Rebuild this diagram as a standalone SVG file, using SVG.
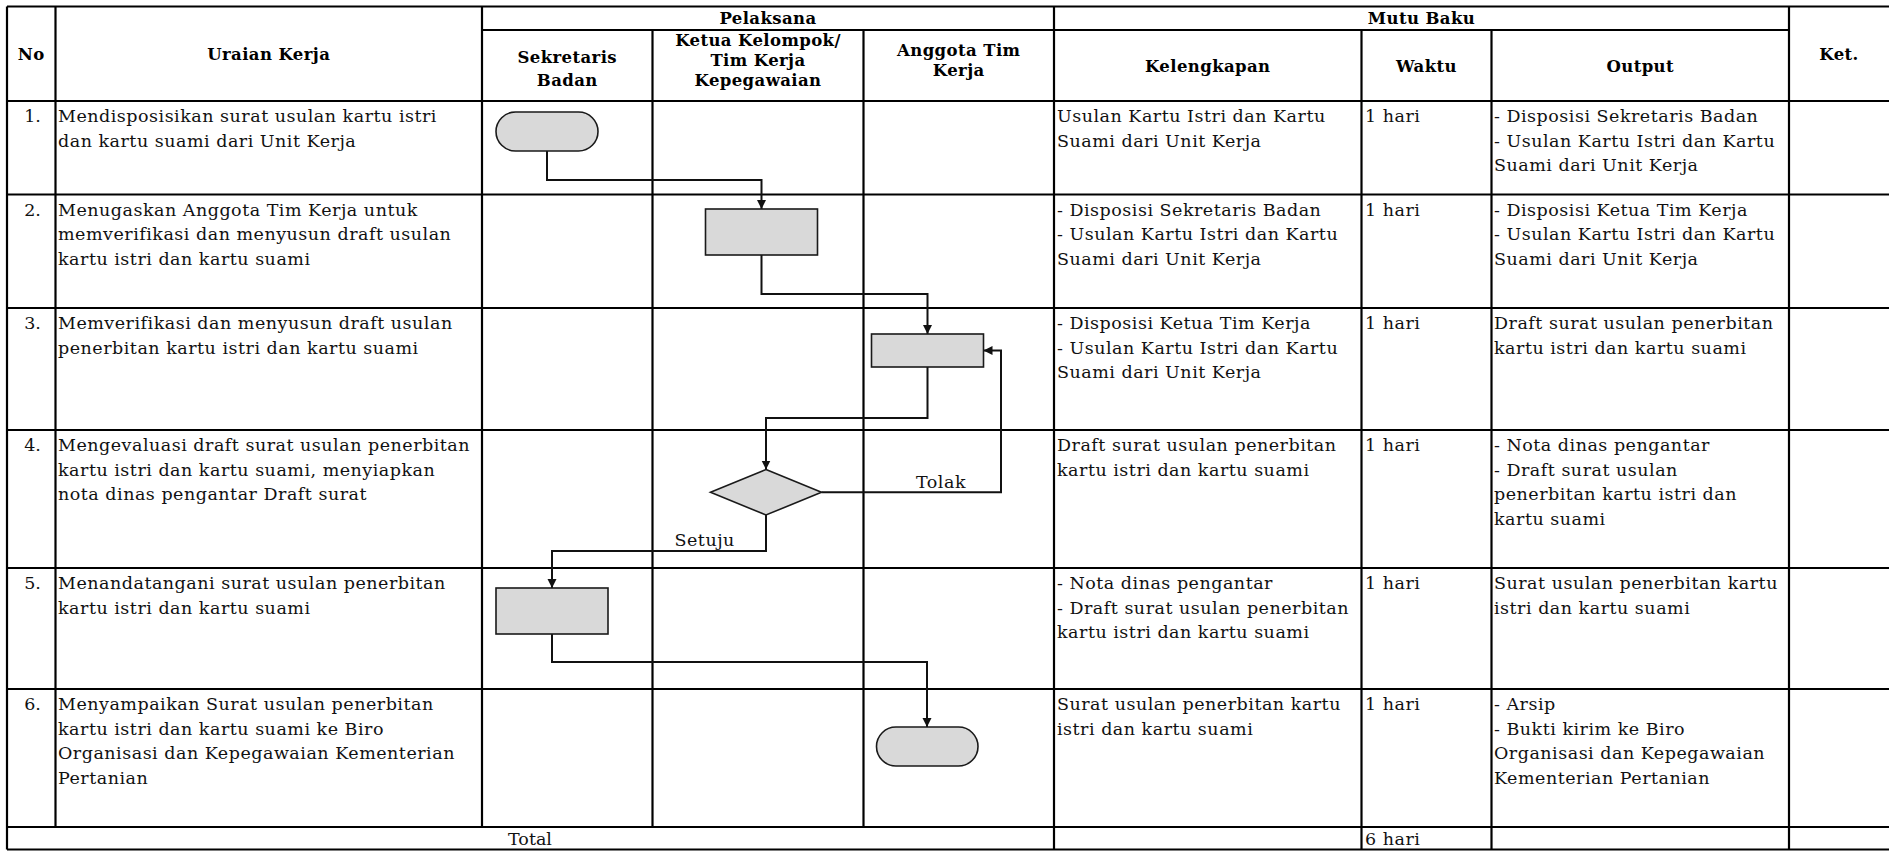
<svg xmlns="http://www.w3.org/2000/svg" width="1889" height="851" viewBox="0 0 1889 851">
<style>
.bg{fill:#fff}
.grid{stroke:#000;stroke-width:2.2;fill:none}
.t{font-family:"DejaVu Serif",serif;font-size:17.5px;letter-spacing:0.5px;fill:#111}
.n{font-family:"DejaVu Serif",serif;font-size:17.5px;fill:#111;text-anchor:middle}
.h{font-family:"DejaVu Serif",serif;font-size:16.5px;letter-spacing:0.4px;font-weight:bold;fill:#000;text-anchor:middle}
.shape{fill:#d9d9d9;stroke:#1a1a1a;stroke-width:1.6}
.conn{fill:none;stroke:#111;stroke-width:2}
.lbl{font-family:"DejaVu Serif",serif;font-size:17.5px;letter-spacing:0.5px;fill:#111}
</style>
<defs>
<marker id="arr" markerUnits="userSpaceOnUse" markerWidth="10" markerHeight="10" refX="9" refY="4.5" orient="auto">
<path d="M0,0 L9,4.5 L0,9 z" fill="#111"/>
</marker>
</defs>
<rect class="bg" x="0" y="0" width="1889" height="851"/>

<g id="table-grid" class="grid">
<line x1="7" y1="6.5" x2="1889" y2="6.5"/>
<line x1="482" y1="30" x2="1789" y2="30"/>
<line x1="7" y1="101" x2="1889" y2="101"/>
<line x1="7" y1="194.5" x2="1889" y2="194.5"/>
<line x1="7" y1="308" x2="1889" y2="308"/>
<line x1="7" y1="430" x2="1889" y2="430"/>
<line x1="7" y1="568" x2="1889" y2="568"/>
<line x1="7" y1="689" x2="1889" y2="689"/>
<line x1="7" y1="827" x2="1889" y2="827"/>
<line x1="7" y1="849.5" x2="1889" y2="849.5"/>
<line x1="7" y1="6.5" x2="7" y2="849.5"/>
<line x1="55.5" y1="6.5" x2="55.5" y2="827"/>
<line x1="482" y1="6.5" x2="482" y2="827"/>
<line x1="652.5" y1="30" x2="652.5" y2="827"/>
<line x1="863.5" y1="30" x2="863.5" y2="827"/>
<line x1="1054" y1="6.5" x2="1054" y2="849.5"/>
<line x1="1361.5" y1="30" x2="1361.5" y2="849.5"/>
<line x1="1491.5" y1="30" x2="1491.5" y2="849.5"/>
<line x1="1789" y1="6.5" x2="1789" y2="849.5"/>
</g>

<g id="header">
<text class="h" x="31.25" y="59.5">No</text>
<text class="h" x="268.75" y="59.5">Uraian Kerja</text>
<text class="h" x="768" y="23.5">Pelaksana</text>
<text class="h" x="1421.5" y="23.5">Mutu Baku</text>
<text class="h" x="1839" y="59.5">Ket.</text>
<text class="h" x="567.25" y="62.5">Sekretaris</text>
<text class="h" x="567.25" y="85.5">Badan</text>
<text class="h" x="758" y="46">Ketua Kelompok/</text>
<text class="h" x="758" y="66">Tim Kerja</text>
<text class="h" x="758" y="86">Kepegawaian</text>
<text class="h" x="958.75" y="56">Anggota Tim</text>
<text class="h" x="958.75" y="76">Kerja</text>
<text class="h" x="1207.75" y="72">Kelengkapan</text>
<text class="h" x="1426.5" y="72">Waktu</text>
<text class="h" x="1640.25" y="72">Output</text>
</g>

<g id="row1">
<text class="n" x="32.5" y="122">1.</text>
<text class="t" y="122"><tspan x="58">Mendisposisikan surat usulan kartu istri</tspan><tspan x="58" y="146.5">dan kartu suami dari Unit Kerja</tspan></text>
<text class="t" y="122"><tspan x="1057">Usulan Kartu Istri dan Kartu</tspan><tspan x="1057" y="146.5">Suami dari Unit Kerja</tspan></text>
<text class="t" x="1365" y="122">1 hari</text>
<text class="t" y="122"><tspan x="1494">- Disposisi Sekretaris Badan</tspan><tspan x="1494" y="146.5">- Usulan Kartu Istri dan Kartu</tspan><tspan x="1494" y="171">Suami dari Unit Kerja</tspan></text>
</g>

<g id="row2">
<text class="n" x="32.5" y="215.5">2.</text>
<text class="t" y="215.5"><tspan x="58">Menugaskan Anggota Tim Kerja untuk</tspan><tspan x="58" y="240">memverifikasi dan menyusun draft usulan</tspan><tspan x="58" y="264.5">kartu istri dan kartu suami</tspan></text>
<text class="t" y="215.5"><tspan x="1057">- Disposisi Sekretaris Badan</tspan><tspan x="1057" y="240">- Usulan Kartu Istri dan Kartu</tspan><tspan x="1057" y="264.5">Suami dari Unit Kerja</tspan></text>
<text class="t" x="1365" y="215.5">1 hari</text>
<text class="t" y="215.5"><tspan x="1494">- Disposisi Ketua Tim Kerja</tspan><tspan x="1494" y="240">- Usulan Kartu Istri dan Kartu</tspan><tspan x="1494" y="264.5">Suami dari Unit Kerja</tspan></text>
</g>

<g id="row3">
<text class="n" x="32.5" y="329">3.</text>
<text class="t" y="329"><tspan x="58">Memverifikasi dan menyusun draft usulan</tspan><tspan x="58" y="353.5">penerbitan kartu istri dan kartu suami</tspan></text>
<text class="t" y="329"><tspan x="1057">- Disposisi Ketua Tim Kerja</tspan><tspan x="1057" y="353.5">- Usulan Kartu Istri dan Kartu</tspan><tspan x="1057" y="378">Suami dari Unit Kerja</tspan></text>
<text class="t" x="1365" y="329">1 hari</text>
<text class="t" y="329"><tspan x="1494">Draft surat usulan penerbitan</tspan><tspan x="1494" y="353.5">kartu istri dan kartu suami</tspan></text>
</g>

<g id="row4">
<text class="n" x="32.5" y="451">4.</text>
<text class="t" y="451"><tspan x="58">Mengevaluasi draft surat usulan penerbitan</tspan><tspan x="58" y="475.5">kartu istri dan kartu suami, menyiapkan</tspan><tspan x="58" y="500">nota dinas pengantar Draft surat</tspan></text>
<text class="t" y="451"><tspan x="1057">Draft surat usulan penerbitan</tspan><tspan x="1057" y="475.5">kartu istri dan kartu suami</tspan></text>
<text class="t" x="1365" y="451">1 hari</text>
<text class="t" y="451"><tspan x="1494">- Nota dinas pengantar</tspan><tspan x="1494" y="475.5">- Draft surat usulan</tspan><tspan x="1494" y="500">penerbitan kartu istri dan</tspan><tspan x="1494" y="524.5">kartu suami</tspan></text>
</g>

<g id="row5">
<text class="n" x="32.5" y="589">5.</text>
<text class="t" y="589"><tspan x="58">Menandatangani surat usulan penerbitan</tspan><tspan x="58" y="613.5">kartu istri dan kartu suami</tspan></text>
<text class="t" y="589"><tspan x="1057">- Nota dinas pengantar</tspan><tspan x="1057" y="613.5">- Draft surat usulan penerbitan</tspan><tspan x="1057" y="638">kartu istri dan kartu suami</tspan></text>
<text class="t" x="1365" y="589">1 hari</text>
<text class="t" y="589"><tspan x="1494">Surat usulan penerbitan kartu</tspan><tspan x="1494" y="613.5">istri dan kartu suami</tspan></text>
</g>

<g id="row6">
<text class="n" x="32.5" y="710">6.</text>
<text class="t" y="710"><tspan x="58">Menyampaikan Surat usulan penerbitan</tspan><tspan x="58" y="734.5">kartu istri dan kartu suami ke Biro</tspan><tspan x="58" y="759">Organisasi dan Kepegawaian Kementerian</tspan><tspan x="58" y="783.5">Pertanian</tspan></text>
<text class="t" y="710"><tspan x="1057">Surat usulan penerbitan kartu</tspan><tspan x="1057" y="734.5">istri dan kartu suami</tspan></text>
<text class="t" x="1365" y="710">1 hari</text>
<text class="t" y="710"><tspan x="1494">- Arsip</tspan><tspan x="1494" y="734.5">- Bukti kirim ke Biro</tspan><tspan x="1494" y="759">Organisasi dan Kepegawaian</tspan><tspan x="1494" y="783.5">Kementerian Pertanian</tspan></text>
</g>

<g id="total">
<text class="n" x="530" y="845">Total</text>
<text class="t" x="1365" y="845">6 hari</text>
</g>

<g id="connectors" class="conn">
<path d="M547,151 V180 H761.5 V209" marker-end="url(#arr)"/>
<path d="M761.5,255 V294 H927.5 V334" marker-end="url(#arr)"/>
<path d="M927.5,367 V418 H766 V469.5" marker-end="url(#arr)"/>
<path d="M821.5,492.3 H1001 V350.5 H983.5" marker-end="url(#arr)"/>
<path d="M766,515 V551 H552 V588" marker-end="url(#arr)"/>
<path d="M552,634 V662 H927 V727" marker-end="url(#arr)"/>
</g>
<g id="connector-labels">
<text class="lbl" x="916" y="488">Tolak</text>
<text class="lbl" x="674.5" y="546">Setuju</text>
</g>

<g id="node-start"><rect class="shape" x="496" y="112" width="102" height="39" rx="19.5" ry="19.5"/></g>
<g id="node-tugas"><rect class="shape" x="705.5" y="209" width="112" height="46"/></g>
<g id="node-verifikasi"><rect class="shape" x="871.5" y="334" width="112" height="33"/></g>
<g id="node-evaluasi"><polygon class="shape" points="766,469.5 821.5,492.3 766,515 710.5,492.3"/></g>
<g id="node-tandatangan"><rect class="shape" x="496" y="588" width="112" height="46"/></g>
<g id="node-end"><rect class="shape" x="876.5" y="727" width="101.5" height="39" rx="19.5" ry="19.5"/></g>
</svg>
